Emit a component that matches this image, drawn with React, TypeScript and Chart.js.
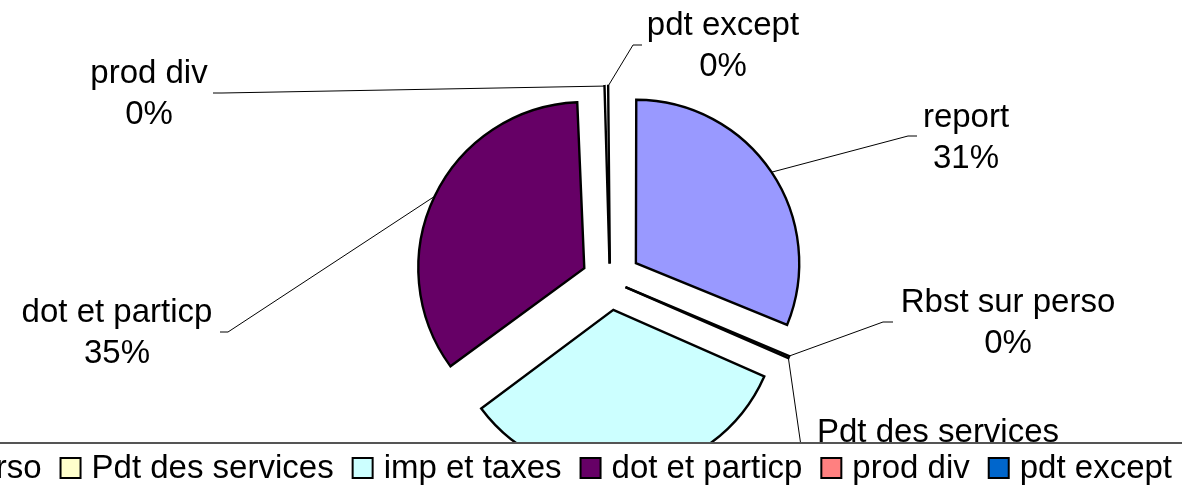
import React, { useEffect, useRef } from "react";
import { Chart, registerables } from "chart.js";

Chart.register(...registerables);

// ---- data ----
const categories = [
  "report",
  "Rbst sur perso",
  "Pdt des services",
  "imp et taxes",
  "dot et particp",
  "prod div",
  "pdt except",
];
const values = [31.2, 0.3, 0.05, 33.3, 34.55, 0.3, 0.3];
const colors = ["#9999FF", "#993366", "#FFFFCC", "#CCFFFF", "#660066", "#FF8080", "#0066CC"];

// ---- layout (label placement, not data) ----
const labelX = [966, 1008, 938, 0, 117, 149, 723];
const labelY = [127, 312, 442, 0, 322, 83, 35];
const showLabel = [true, true, true, false, true, true, true];
// leader start points: [outer x, outer y, elbow x, elbow y]
const leaderStart: (number[] | null)[] = [
  [917, 136, 908, 136],
  [893, 322, 883, 322],
  null,
  null,
  [220, 332, 228, 332],
  [213, 93, 222, 93],
  [642, 45, 633, 45],
];
const pdtServicesLeaderEnd = [801, 446];

const EXPLODE = 33.5;
const RADIUS = 161;
const FONT = "33px 'Liberation Sans', Arial, sans-serif";
const LEGEND_TOP = 443;

const total = values.reduce((a, b) => a + b, 0);

function offsetFor(v: number) {
  const circ = (v / total) * Math.PI * 2;
  const fix = 1 - Math.sin(Math.min(Math.PI, circ));
  return (4 * EXPLODE) / (1 + fix);
}

const offsets = values.map((v) => offsetFor(v));

const overlayPlugin = {
  id: "overlay",
  afterDraw(chart: any) {
    const ctx: CanvasRenderingContext2D = chart.ctx;
    const meta = chart.getDatasetMeta(0);
    const tips: number[][] = meta.data.map((arc: any) => {
      const p = arc.getProps(["x", "y", "startAngle", "endAngle", "outerRadius"], true);
      const mid = (p.startAngle + p.endAngle) / 2;
      const d = p.outerRadius + EXPLODE;
      return [p.x + Math.cos(mid) * d, p.y + Math.sin(mid) * d];
    });

    ctx.save();
    // leader lines
    ctx.strokeStyle = "#000";
    ctx.lineWidth = 1;
    categories.forEach((_, i) => {
      const ls = leaderStart[i];
      if (ls) {
        ctx.beginPath();
        ctx.moveTo(ls[0], ls[1]);
        ctx.lineTo(ls[2], ls[3]);
        ctx.lineTo(tips[i][0], tips[i][1]);
        ctx.stroke();
      }
    });
    // Pdt des services leader
    ctx.beginPath();
    ctx.moveTo(tips[2][0], tips[2][1]);
    ctx.lineTo(pdtServicesLeaderEnd[0], pdtServicesLeaderEnd[1]);
    ctx.stroke();

    // labels
    ctx.fillStyle = "#000";
    ctx.font = FONT;
    ctx.textAlign = "center";
    ctx.textBaseline = "alphabetic";
    categories.forEach((c, i) => {
      if (!showLabel[i]) return;
      const pct = Math.round((values[i] / total) * 100) + "%";
      ctx.fillText(c, labelX[i], labelY[i]);
      ctx.fillText(pct, labelX[i], labelY[i] + 41);
    });

    // legend box
    ctx.fillStyle = "#fff";
    ctx.fillRect(0, LEGEND_TOP, chart.width, chart.height - LEGEND_TOP);
    ctx.strokeStyle = "#555";
    ctx.lineWidth = 2;
    ctx.beginPath();
    ctx.moveTo(0, LEGEND_TOP);
    ctx.lineTo(chart.width, LEGEND_TOP);
    ctx.stroke();

    // legend items, laid out from right
    ctx.font = FONT;
    ctx.textAlign = "left";
    const box = 20;
    const boxGap = 11;
    const itemGap = 19;
    const baseline = 478;
    let xEnd = 1172;
    for (let i = categories.length - 1; i >= 0; i--) {
      const w = ctx.measureText(categories[i]).width;
      const tx = xEnd - w;
      const bx = tx - boxGap - box;
      ctx.fillStyle = colors[i];
      ctx.fillRect(bx, baseline - 20, box, box);
      ctx.strokeStyle = "#000";
      ctx.lineWidth = 2;
      ctx.strokeRect(bx, baseline - 20, box, box);
      ctx.fillStyle = "#000";
      ctx.fillText(categories[i], tx, baseline);
      xEnd = bx - itemGap;
    }
    ctx.restore();
  },
};

export default function App() {
  const ref = useRef<HTMLCanvasElement | null>(null);
  useEffect(() => {
    if (!ref.current) return;
    const chart = new Chart(ref.current, {
      type: "pie",
      data: {
        labels: categories,
        datasets: [
          {
            data: values,
            backgroundColor: colors,
            borderColor: "#000",
            borderWidth: 2.4,
            borderJoinStyle: "miter",
            offset: offsets,
          } as any,
        ],
      },
      options: {
        responsive: false,
        animation: false,
        radius: RADIUS,
        layout: { padding: { left: 38, right: 0, top: 72, bottom: 0 } },
        plugins: { legend: { display: false }, tooltip: { enabled: false } },
      } as any,
      plugins: [overlayPlugin],
    });
    return () => chart.destroy();
  }, []);
  return (
    <div style={{ position: "fixed", left: 0, top: 0, width: 1182, height: 489, background: "#fff" }}>
      <canvas ref={ref} width={1182} height={489} style={{ display: "block" }} />
    </div>
  );
}
